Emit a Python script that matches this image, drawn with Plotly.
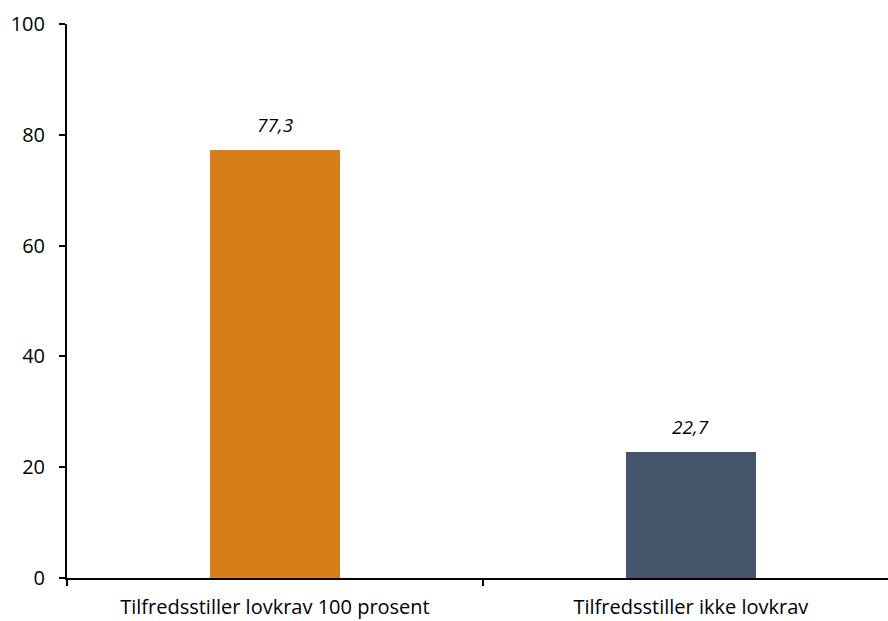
import plotly.graph_objects as go

categories = ["Tilfredsstiller lovkrav 100 prosent", "Tilfredsstiller ikke lovkrav"]
values = [77.3, 22.7]
colors = ["#D77E1A", "#44546A"]
y_ticks = [0, 20, 40, 60, 80, 100]

FONT = "'Open Sans', sans-serif"
FS = 20

fig = go.Figure()
fig.add_trace(go.Bar(
    x=categories, y=values, marker=dict(color=colors, line=dict(width=0)),
    width=0.3125, showlegend=False, hoverinfo="skip",
))

for c, v in zip(categories, values):
    fig.add_annotation(
        x=c, y=v, text="<i>" + f"{v:.1f}".replace(".", ",") + "</i>",
        showarrow=False, yshift=25, yanchor="middle",
        font=dict(family=FONT, size=19, color="#000000"),
    )

fig.update_layout(
    width=888, height=621,
    margin=dict(l=67, r=0, t=24, b=43),
    paper_bgcolor="white", plot_bgcolor="white",
    font=dict(family=FONT, size=FS, color="#000000"),
    bargap=0,
    xaxis=dict(
        type="category", range=[-0.5, 1.474],
        tickson="boundaries", ticks="outside", ticklen=6, tickwidth=2, tickcolor="#000000",
        showline=True, linecolor="#000000", linewidth=2,
        showgrid=False, zeroline=False, ticklabelstandoff=10,
        automargin=False,
        tickfont=dict(family=FONT, size=FS, color="#000000"),
    ),
    yaxis=dict(
        range=[0, 100], tickvals=y_ticks, ticktext=[str(t) for t in y_ticks],
        ticks="outside", ticklen=6, tickwidth=2, tickcolor="#000000",
        showline=True, linecolor="#000000", linewidth=2,
        showgrid=False, zeroline=False, ticklabelstandoff=10,
        automargin=False,
        tickfont=dict(family=FONT, size=FS, color="#000000"),
    ),
)

fig.write_html(
    "out.html",
    config={"displayModeBar": False},
    post_script="document.body.style.margin='0';document.body.style.overflow='hidden';",
)
